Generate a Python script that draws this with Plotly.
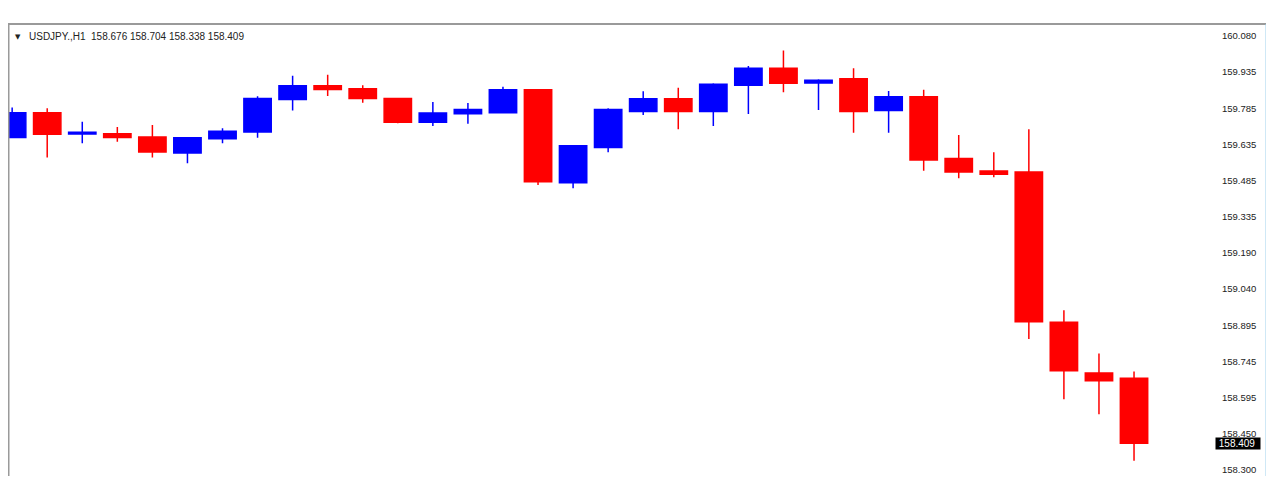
import plotly.graph_objects as go

# ---- data ----
bar_index = list(range(33))
opens = [159.663, 159.765, 159.678, 159.679, 159.666, 159.600, 159.658, 159.686, 159.819, 159.876,
         159.863, 159.823, 159.726, 159.761, 159.765, 159.859, 159.478, 159.622, 159.770, 159.822,
         159.770, 159.878, 159.948, 159.887, 159.904, 159.774, 159.831, 159.577, 159.526, 159.522,
         158.906, 158.697, 158.676]
highs = [159.786, 159.783, 159.728, 159.707, 159.715, 159.666, 159.701, 159.833, 159.917, 159.921,
         159.878, 159.825, 159.809, 159.805, 159.872, 159.860, 159.630, 159.783, 159.853, 159.867,
         159.886, 159.957, 160.020, 159.902, 159.948, 159.854, 159.859, 159.674, 159.603, 159.697,
         158.955, 158.777, 158.704]
lows = [159.660, 159.581, 159.640, 159.646, 159.581, 159.558, 159.640, 159.662, 159.774, 159.834,
        159.806, 159.722, 159.711, 159.720, 159.765, 159.469, 159.455, 159.603, 159.756, 159.697,
        159.711, 159.760, 159.849, 159.776, 159.683, 159.683, 159.527, 159.496, 159.500, 158.837,
        158.590, 158.528, 158.338]
closes = [159.765, 159.677, 159.685, 159.663, 159.604, 159.662, 159.689, 159.823, 159.876, 159.860,
          159.823, 159.726, 159.764, 159.778, 159.859, 159.482, 159.630, 159.778, 159.822, 159.770,
          159.882, 159.948, 159.886, 159.898, 159.770, 159.831, 159.571, 159.522, 159.513, 158.908,
          158.707, 158.666, 158.409]

tick_labels = ["158.300", "158.450", "158.595", "158.745", "158.895", "159.040", "159.190",
               "159.335", "159.485", "159.635", "159.785", "159.935", "160.080"]
tick_values = [158.300 + k * (160.080 - 158.300) / 12 for k in range(13)]

symbol = "USDJPY.,H1"
last_bar = {"open": "158.676", "high": "158.704", "low": "158.338", "close": "158.409"}
last_close = 158.409

# The page body adds an 8px offset; figure occupies page x 8..1274, y 8..500
W, H = 1266, 492
L, T, R, B = 1, 16, 66, 24
PW = W - L - R
PH = H - T - B

fig = go.Figure()
fig.add_trace(go.Candlestick(
    x=bar_index, open=opens, high=highs, low=lows, close=closes,
    increasing=dict(line=dict(color="#0000FF", width=1.5), fillcolor="#0000FF"),
    decreasing=dict(line=dict(color="#FF0000", width=1.5), fillcolor="#FF0000"),
    whiskerwidth=0, showlegend=False, hoverinfo="skip",
))

fig.update_layout(
    width=W, height=H,
    margin=dict(l=L, r=R, t=T, b=B),
    paper_bgcolor="white", plot_bgcolor="white",
    boxgap=0.22, boxgroupgap=0,
    xaxis=dict(range=[-0.09, 34.11], showticklabels=False, showgrid=False, zeroline=False,
               showline=False, ticks="", rangeslider=dict(visible=False), fixedrange=True),
    yaxis=dict(range=[158.275, 160.129], side="right", showgrid=False, zeroline=False,
               showline=False, tickvals=tick_values, ticktext=tick_labels,
               ticks="outside", ticklen=11, tickcolor="rgba(0,0,0,0)",
               tickfont=dict(family="Liberation Sans", size=9.5, color="#222222"),
               fixedrange=True),
    font=dict(family="Liberation Sans"),
)


def px_x(page_x):
    return (page_x - 8 - L) / PW


def px_y(page_y):
    return (H - B - (page_y - 8)) / PH


# frame lines
xr = px_x(1266)
fig.add_shape(type="line", xref="paper", yref="paper", x0=px_x(8), x1=xr, y0=px_y(24), y1=px_y(24),
              line=dict(color="#9a9a9a", width=2))
fig.add_shape(type="line", xref="paper", yref="paper", x0=px_x(8.5), x1=px_x(8.5), y0=px_y(476), y1=px_y(24),
              line=dict(color="#9a9a9a", width=2))
fig.add_shape(type="line", xref="paper", yref="paper", x0=xr, x1=xr, y0=px_y(476), y1=px_y(24),
              line=dict(color="#9fd0ec", width=1))

# header text
fig.add_annotation(xref="paper", yref="paper", x=px_x(13), y=px_y(37),
                   text="▼", showarrow=False, xanchor="left", yanchor="middle",
                   font=dict(family="DejaVu Sans", size=7, color="#222222"))
header = f"{symbol}  {last_bar['open']} {last_bar['high']} {last_bar['low']} {last_bar['close']}"
fig.add_annotation(xref="paper", yref="paper", x=px_x(27), y=px_y(37),
                   text=header, showarrow=False, xanchor="left", yanchor="middle",
                   font=dict(family="Liberation Sans", size=10, color="#222222"))

# last price tag
fig.add_annotation(xref="paper", yref="y", x=px_x(1215), y=last_close,
                   text=f"&nbsp;{last_close:.3f}&nbsp;&nbsp;", showarrow=False, xanchor="left", yanchor="middle",
                   bgcolor="black", borderpad=0,
                   font=dict(family="Liberation Sans", size=10, color="white"))

fig.write_html("out.html")
